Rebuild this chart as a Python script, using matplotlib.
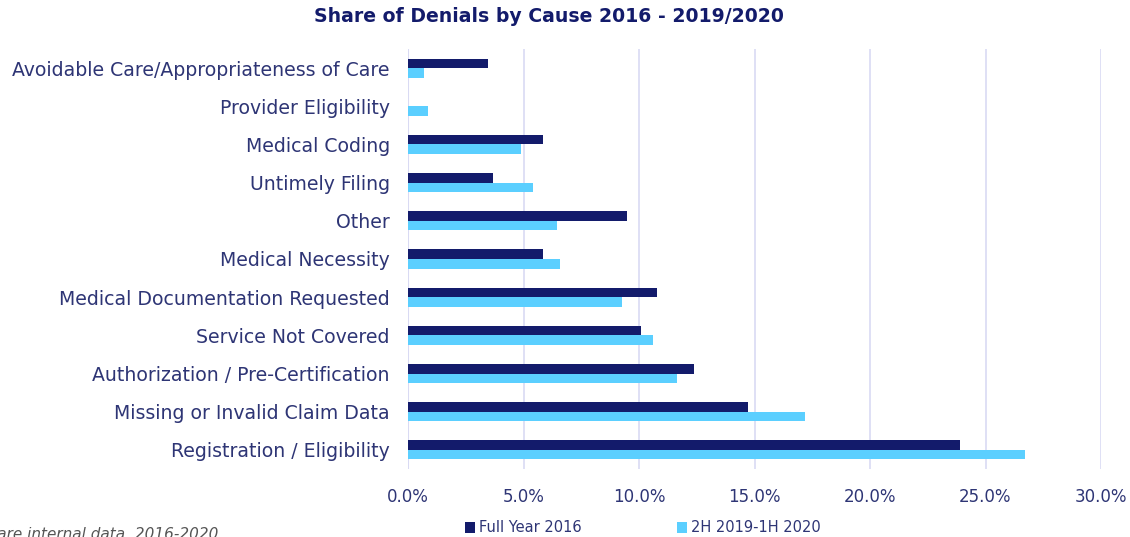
import matplotlib.pyplot as plt
import numpy as np

# categories listed bottom to top
categories = [
    "Registration / Eligibility",
    "Missing or Invalid Claim Data",
    "Authorization / Pre-Certification",
    "Service Not Covered",
    "Medical Documentation Requested",
    "Medical Necessity",
    "Other",
    "Untimely Filing",
    "Medical Coding",
    "Provider Eligibility",
    "Avoidable Care/Appropriateness of Care",
]
full_year_2016 = [23.9, 14.7, 12.4, 10.1, 10.8, 5.85, 9.5, 3.7, 5.85, 0.0, 3.45]
h2_2019_h1_2020 = [26.7, 17.2, 11.65, 10.6, 9.25, 6.6, 6.45, 5.4, 4.9, 0.85, 0.7]

DARK = "#131B6B"
LIGHT = "#5BCFFF"
TEXT = "#2E3575"
GRID = "#D9DAF3"

plt.rcParams['font.family'] = ['DejaVu Sans']

fig = plt.figure(figsize=(11.3, 5.37), dpi=100)
ax = fig.add_axes([408 / 1130, 1 - 469 / 537, (1101 - 408) / 1130, 420 / 537])

y = np.arange(len(categories))
h = 0.25
ax.barh(y + h / 2, full_year_2016, height=h, color=DARK, label="Full Year 2016", zorder=3)
ax.barh(y - h / 2, h2_2019_h1_2020, height=h, color=LIGHT, label="2H 2019-1H 2020", zorder=3)

ax.set_xlim(0, 30)
ax.set_ylim(-0.5, len(categories) - 0.5)
ax.set_xticks(np.arange(0, 31, 5))
ax.set_xticklabels([f"{v:.1f}%" for v in np.arange(0, 31, 5)])
ax.set_yticks(y)
ax.set_yticklabels(categories)
ax.tick_params(axis='y', length=0, pad=13, labelsize=13.6, labelcolor=TEXT)
ax.tick_params(axis='x', length=0, pad=14, labelsize=12, labelcolor=TEXT)
ax.grid(axis='x', color=GRID, linewidth=1.2, zorder=0)
for s in ax.spines.values():
    s.set_visible(False)
ax.axvline(0, color=GRID, linewidth=1.5, zorder=1)

fig.text(549 / 1130, 1 - 17 / 537, "Share of Denials by Cause 2016 - 2019/2020",
         ha='center', va='center', fontsize=13.6, fontweight='bold', color=DARK)

fig.legend(loc='center', bbox_to_anchor=(643 / 1130, 1 - 528 / 537), ncol=2,
           frameon=False, fontsize=10.5, labelcolor=TEXT, handlelength=0.7,
           handleheight=0.7, columnspacing=6.5, handletextpad=0.3)

fig.text(218 / 1130, 1 - 534 / 537, "Source: Change Healthcare internal data, 2016-2020",
         ha='right', va='center', fontsize=11, style='italic', color="#555555")

fig.savefig("out.png", dpi=100)
